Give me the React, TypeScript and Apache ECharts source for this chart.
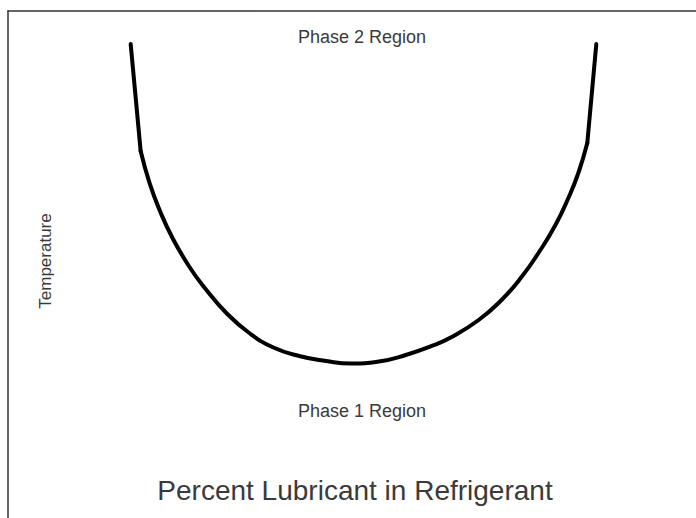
import React, { useEffect, useRef } from "react";
import * as echarts from "echarts";

// Percent lubricant (x) vs temperature (y), relative units 0-100
const lubricantPct = [17.83, 19.28, 20.58, 22.03, 23.91, 26.38, 28.84, 31.74, 35.07, 38.41, 42.32, 46.23, 49.86, 53.91, 57.83, 61.59, 64.49, 68.41, 71.74, 74.64, 77.1, 79.57, 81.45, 82.9, 84.2, 85.51];
const temperature = [93.49, 72.39, 66.07, 60.75, 55.23, 49.51, 44.97, 40.43, 36.49, 33.73, 31.95, 30.97, 30.47, 30.87, 32.15, 33.93, 35.7, 39.05, 43.0, 47.53, 52.27, 57.79, 63.12, 68.05, 73.96, 93.49];

const topLabel = "Phase 2 Region";
const bottomLabel = "Phase 1 Region";
const yLabel = "Temperature";
const xLabel = "Percent Lubricant in Refrigerant";

const FONT = "'Liberation Sans', Arial, sans-serif";
const TXT = "#3a3a3a";

export default function App() {
  const ref = useRef<HTMLDivElement>(null);
  useEffect(() => {
    if (!ref.current) return;
    const chart = echarts.init(ref.current, null, { renderer: "svg" });
    const data = lubricantPct.map((x, i) => [x, temperature[i]]);
    const n = data.length;
    const lineStyle = { color: "#000", width: 4, cap: "round" as const, join: "round" as const };
    chart.setOption({
      animation: false,
      backgroundColor: "#ffffff",
      grid: { left: 8, top: 11, right: -2, bottom: -2 },
      xAxis: {
        type: "value",
        position: "top",
        min: 0,
        max: 100,
        axisLine: { show: true, onZero: false, lineStyle: { color: "#333", width: 1.5 } },
        axisTick: { show: false },
        axisLabel: { show: false },
        splitLine: { show: false },
      },
      yAxis: {
        type: "value",
        min: 0,
        max: 100,
        axisLine: { show: true, onZero: false, lineStyle: { color: "#333", width: 1.5 } },
        axisTick: { show: false },
        axisLabel: { show: false },
        splitLine: { show: false },
      },
      series: [
        {
          type: "line",
          data: data.slice(0, 2),
          showSymbol: false,
          lineStyle,
        },
        {
          type: "line",
          data: data.slice(1, n - 1),
          smooth: 0.5,
          showSymbol: false,
          lineStyle,
        },
        {
          type: "line",
          data: data.slice(n - 2),
          showSymbol: false,
          lineStyle,
        },
      ],
      graphic: [
        {
          type: "text",
          x: 362,
          y: 37,
          style: { text: topLabel, font: `18px ${FONT}`, fill: TXT, align: "center", verticalAlign: "middle" },
        },
        {
          type: "text",
          x: 362,
          y: 411,
          style: { text: bottomLabel, font: `18px ${FONT}`, fill: TXT, align: "center", verticalAlign: "middle" },
        },
        {
          type: "text",
          x: 45,
          y: 261,
          rotation: Math.PI / 2,
          style: { text: yLabel, font: `17px ${FONT}`, fill: TXT, align: "center", verticalAlign: "middle" },
        },
        {
          type: "text",
          x: 355,
          y: 490,
          style: { text: xLabel, font: `28px ${FONT}`, fill: TXT, align: "center", verticalAlign: "middle" },
        },
      ],
    });
    return () => chart.dispose();
  }, []);
  return (
    <div
      ref={ref}
      style={{ position: "fixed", left: 0, top: 0, width: 696, height: 518 }}
    />
  );
}
